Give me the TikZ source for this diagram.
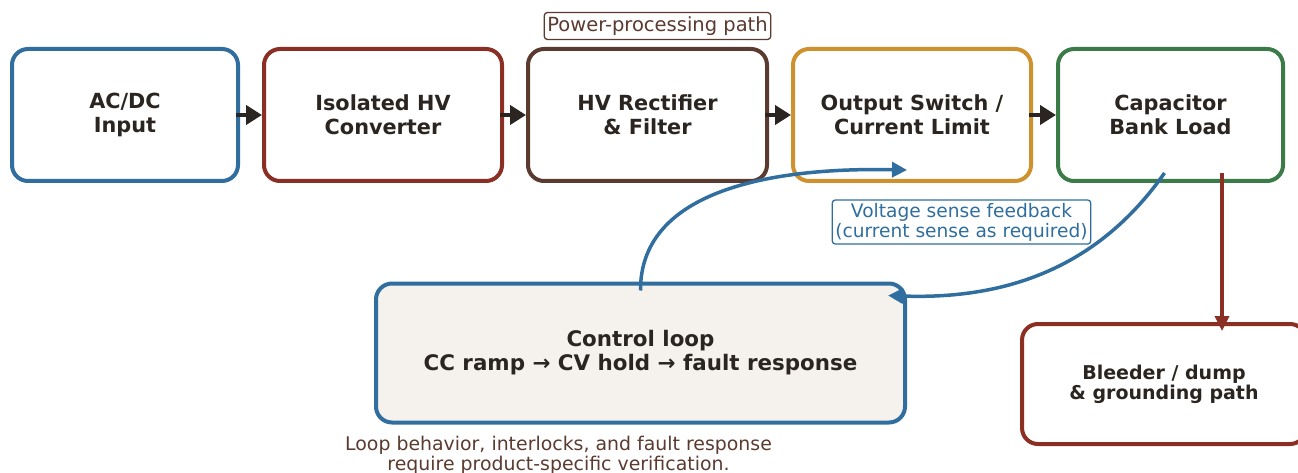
\documentclass[tikz,border=0pt]{standalone}
\usepackage{fontspec}
\setmainfont{DejaVu Sans}
\usetikzlibrary{arrows.meta,calc}
\definecolor{cblue}{HTML}{2F6E9E}
\definecolor{cred}{HTML}{8B2E24}
\definecolor{cbrown}{HTML}{5B3A2F}
\definecolor{cgold}{HTML}{CF912E}
\definecolor{cgreen}{HTML}{3A7B48}
\definecolor{cdark}{HTML}{2B2522}
\definecolor{cfill}{HTML}{F5F2EE}
\tikzset{
  blk/.style={draw, line width=4pt, rounded corners=16pt, fill=white, align=center,
    text=cdark, font=\fontsize{20.8}{24}\selectfont\bfseries, minimum height=132pt},
  tag/.style={draw, line width=1.3pt, rounded corners=3pt, fill=white, align=center,
    inner sep=3pt},
  flow/.style={line width=4pt, color=cdark, -{Triangle[length=16pt,width=19pt]}},
  fb/.style={line width=3.5pt, color=cblue, -{Triangle[length=15pt,width=15pt]}},
}
\begin{document}
\begin{tikzpicture}[x=1pt,y=-1pt]
\useasboundingbox (0,0) rectangle (1298,473);
\node[blk, draw=cblue, minimum width=226pt] (acdc) at (125,115) {AC/DC\\Input};
\node[blk, draw=cred, minimum width=238pt] (iso) at (383,115) {Isolated HV\\Converter};
\node[blk, draw=cbrown, minimum width=239pt] (rect) at (647.5,115) {HV Rectifier\\\& Filter};
\node[blk, draw=cgold, minimum width=238pt] (out) at (912,115) {Output Switch /\\Current Limit};
\node[blk, draw=cgreen, minimum width=225pt] (cap) at (1170.5,115) {Capacitor\\Bank Load};
\node[blk, draw=cblue, fill=cfill, minimum width=529pt, minimum height=139pt, font=\fontsize{21.4}{24}\selectfont\bfseries] (ctrl) at (640.5,353) {Control loop\\CC ramp → CV hold → fault response};
\node[blk, draw=cred, minimum width=284pt, minimum height=120pt, font=\fontsize{19}{20}\selectfont\bfseries] (bleed) at (1164,384) {Bleeder / dump\\\& grounding path};
\node[tag, draw=cbrown, text=cbrown, font=\fontsize{19.5}{20}\selectfont, inner ysep=4pt] (pp) at (657.5,26) {Power-processing path};
\node[tag, draw=cblue, text=cblue, font=\fontsize{18.6}{20}\selectfont] (vs) at (961.5,222) {Voltage sense feedback\\(current sense as required)};
\node[text=cbrown, align=center, font=\fontsize{18.9}{20}\selectfont] (note) at (558.5,455) {Loop behavior, interlocks, and fault response\\require product-specific verification.};

\draw[flow] ([xshift=-4pt]acdc.east) -- (iso.west);
\draw[flow] ([xshift=-4pt]iso.east) -- (rect.west);
\draw[flow] ([xshift=-4pt]rect.east) -- (out.west);
\draw[flow] ([xshift=-4pt]out.east) -- (cap.west);

\draw[fb] ([yshift=-9pt]ctrl.north) .. controls (640,195) and (760,167) .. ([xshift=-5pt,yshift=13pt]out.south);
\draw[fb] ([xshift=-6pt,yshift=10pt]cap.south) .. controls (1100,265) and (1010,300) .. ([xshift=-19pt,yshift=-14pt]ctrl.north east);
\draw[line width=3.5pt, color=cred, -{Triangle[length=15pt,width=14pt]}] ([xshift=51.5pt,yshift=10pt]cap.south) -- ([xshift=58pt,yshift=-9pt]bleed.north);
\end{tikzpicture}
\end{document}
